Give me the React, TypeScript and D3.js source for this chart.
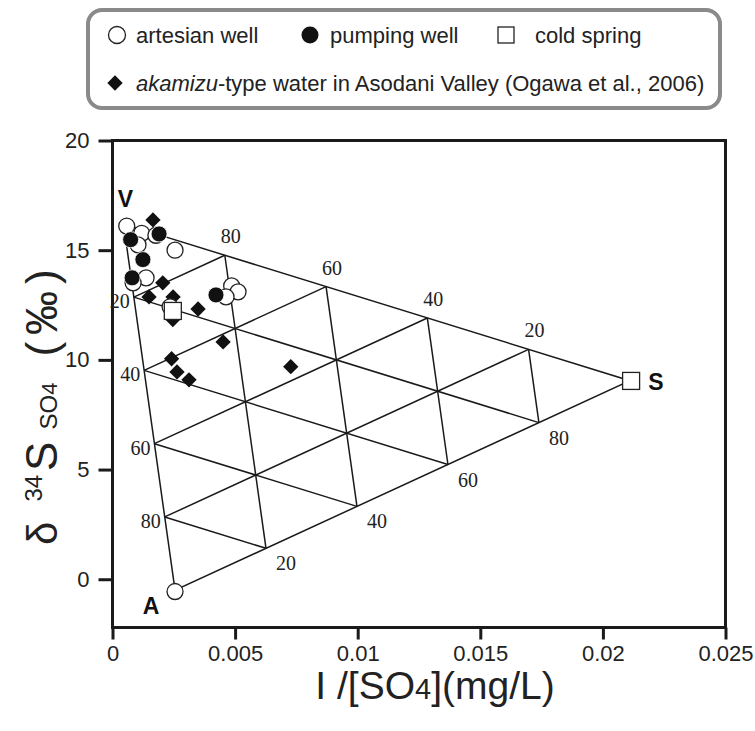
import { useEffect, useRef } from "react";
import * as d3 from "d3";

// axis ticks
const xTicks = [0, 0.005, 0.01, 0.015, 0.02, 0.025];
const yTicks = [0, 5, 10, 15, 20];

// end members of the mixing triangle: [I/SO4, d34S]
const endV = [0.00045, 16.2];
const endA = [0.00255, -0.5];
const endS = [0.0211, 9.05];
const gridLevels = [20, 40, 60, 80];

// samples [I/SO4, d34S]
const artesian = [
  [0.00058, 16.1], [0.00119, 15.77], [0.00177, 15.68], [0.00255, 15.0],
  [0.00104, 15.24], [0.00137, 13.74], [0.00084, 13.51], [0.00486, 13.37],
  [0.00512, 13.1], [0.00463, 12.87], [0.00235, 12.42], [0.00255, -0.56],
];
const pumping = [
  [0.00074, 15.48], [0.00124, 14.57], [0.0019, 15.74], [0.0008, 13.74], [0.00422, 12.96],
];
const coldSpring = [
  [0.00246, 12.23], [0.02115, 9.04],
];
const akamizu = [
  [0.00165, 16.38], [0.00205, 13.51], [0.00149, 12.87], [0.00247, 12.87],
  [0.00246, 11.84], [0.00349, 12.32], [0.00451, 10.82], [0.00241, 10.05],
  [0.00263, 9.45], [0.00312, 9.09], [0.00727, 9.69],
];

const W = 755;
const H = 731;
const sans = "'Liberation Sans', Arial, sans-serif";
const serif = "'Liberation Serif', 'Times New Roman', serif";

const App = () => {
  const ref = useRef<SVGSVGElement>(null);

  useEffect(() => {
    const svg = d3.select(ref.current);
    svg.selectAll("*").remove();

    const x = d3.scaleLinear().domain([0, 0.025]).range([112.5, 725.5]);
    const y = d3.scaleLinear().domain([-2.2, 20]).range([627.5, 140.5]);
    const diamond = d3.symbol(d3.symbolDiamond2, 150)();

    // legend box
    const lg = svg.append("g");
    lg.append("rect")
      .attr("x", 88).attr("y", 10).attr("width", 632).attr("height", 98)
      .attr("rx", 14).attr("fill", "#fff")
      .attr("stroke", "#8a8a8a").attr("stroke-width", 4);
    lg.append("circle").attr("cx", 117).attr("cy", 35).attr("r", 8.5)
      .attr("fill", "#fff").attr("stroke", "#222").attr("stroke-width", 1.3);
    lg.append("circle").attr("cx", 310).attr("cy", 35).attr("r", 8.5).attr("fill", "#111");
    lg.append("rect").attr("x", 498).attr("y", 27).attr("width", 16).attr("height", 16)
      .attr("fill", "#fff").attr("stroke", "#222").attr("stroke-width", 1.3);
    lg.append("path").attr("d", diamond)
      .attr("transform", "translate(115,83)").attr("fill", "#111");
    const legendText = [
      { t: "artesian well", x: 136, y: 43 },
      { t: "pumping well", x: 330, y: 43 },
      { t: "cold spring", x: 535, y: 43 },
    ];
    legendText.forEach((d) => {
      lg.append("text").attr("x", d.x).attr("y", d.y).text(d.t)
        .attr("font-family", sans).attr("font-size", 22).attr("fill", "#222");
    });
    const l2 = lg.append("text").attr("x", 136).attr("y", 91)
      .attr("font-family", sans).attr("font-size", 22).attr("fill", "#222");
    l2.append("tspan").attr("font-style", "italic").text("akamizu");
    l2.append("tspan").text("-type water in Asodani Valley (Ogawa et al., 2006)");

    // axes
    const yAxis = svg.append("g").attr("transform", `translate(${x(0)},0)`)
      .call(d3.axisLeft(y).tickValues(yTicks).tickSize(14).tickPadding(9).tickFormat((d) => String(d)));
    const xAxis = svg.append("g").attr("transform", `translate(0,${y(-2.2)})`)
      .call(d3.axisBottom(x).tickValues(xTicks).tickSize(12).tickPadding(6).tickFormat((d) => String(+d)));
    [yAxis, xAxis].forEach((g) => {
      g.select(".domain").remove();
      g.selectAll(".tick line").attr("stroke", "#1a1a1a").attr("stroke-width", 3);
      g.selectAll(".tick text").attr("font-family", sans).attr("font-size", 22).attr("fill", "#222");
    });

    svg.append("rect")
      .attr("x", x(0)).attr("y", y(20))
      .attr("width", x(0.025) - x(0)).attr("height", y(-2.2) - y(20))
      .attr("fill", "none").attr("stroke", "#1a1a1a").attr("stroke-width", 3);

    // mixing triangle
    const mix = (wV: number, wA: number, wS: number): [number, number] => [
      x(wV * endV[0] + wA * endA[0] + wS * endS[0]),
      y(wV * endV[1] + wA * endA[1] + wS * endS[1]),
    ];
    const line = d3.line();
    const tri = svg.append("g").attr("fill", "none").attr("stroke", "#1a1a1a").attr("stroke-width", 1.5);
    tri.append("path").attr("d", line([mix(1, 0, 0), mix(0, 1, 0), mix(0, 0, 1), mix(1, 0, 0)]));
    gridLevels.forEach((lv) => {
      const t = lv / 100;
      tri.append("path").attr("d", line([mix(t, 1 - t, 0), mix(t, 0, 1 - t)]));
      tri.append("path").attr("d", line([mix(1 - t, t, 0), mix(0, t, 1 - t)]));
      tri.append("path").attr("d", line([mix(1 - t, 0, t), mix(0, 1 - t, t)]));
    });

    const tl = svg.append("g").attr("font-family", serif).attr("font-size", 20).attr("fill", "#222");
    gridLevels.forEach((lv) => {
      const t = lv / 100;
      const p1 = mix(t, 0, 1 - t);
      tl.append("text").attr("x", p1[0] + 6).attr("y", p1[1] - 12)
        .attr("text-anchor", "middle").text(lv);
      const p2 = mix(1 - t, t, 0);
      tl.append("text").attr("x", p2[0] - 4).attr("y", p2[1] + 11)
        .attr("text-anchor", "end").text(lv);
      const p3 = mix(0, 1 - t, t);
      tl.append("text").attr("x", p3[0] + 20).attr("y", p3[1] + 22)
        .attr("text-anchor", "middle").text(lv);
    });

    // samples
    svg.append("g").selectAll("path").data(akamizu).join("path")
      .attr("d", diamond)
      .attr("transform", (d) => `translate(${x(d[0])},${y(d[1])})`)
      .attr("fill", "#111");
    svg.append("g").selectAll("circle").data(artesian).join("circle")
      .attr("cx", (d) => x(d[0])).attr("cy", (d) => y(d[1])).attr("r", 8)
      .attr("fill", "#fff").attr("stroke", "#222").attr("stroke-width", 1.3);
    svg.append("g").selectAll("circle").data(pumping).join("circle")
      .attr("cx", (d) => x(d[0])).attr("cy", (d) => y(d[1])).attr("r", 8)
      .attr("fill", "#111").attr("stroke", "#fff").attr("stroke-width", 0.8);
    svg.append("g").selectAll("rect").data(coldSpring).join("rect")
      .attr("x", (d) => x(d[0]) - 8.5).attr("y", (d) => y(d[1]) - 8.5)
      .attr("width", 17).attr("height", 17)
      .attr("fill", "#fff").attr("stroke", "#222").attr("stroke-width", 1.3);

    // end member labels
    const em = svg.append("g").attr("font-family", sans).attr("font-size", 23)
      .attr("font-weight", "bold").attr("fill", "#111").attr("text-anchor", "middle");
    em.append("text").attr("x", x(endV[0]) + 2).attr("y", y(endV[1]) - 17).text("V");
    em.append("text").attr("x", x(endA[0]) - 24).attr("y", y(endA[1]) + 24).text("A");
    em.append("text").attr("x", x(endS[0]) + 26).attr("y", y(endS[1]) + 9).text("S");

    // axis titles
    const yt = svg.append("text")
      .attr("transform", "translate(57,545) rotate(-90)")
      .attr("font-family", sans).attr("fill", "#222");
    yt.append("tspan").attr("font-size", 42).text("δ");
    yt.append("tspan").attr("font-size", 24).attr("dx", 20).attr("dy", -15).text("34");
    yt.append("tspan").attr("font-size", 44).attr("dx", 4).attr("dy", 15).text("S");
    yt.append("tspan").attr("font-size", 24).attr("dx", 12).text("SO");
    yt.append("tspan").attr("font-size", 22).text("4");
    yt.append("tspan").attr("font-size", 44).attr("dx", 26).attr("letter-spacing", 7).text("(‰)");

    const xt = svg.append("text").attr("x", 435).attr("y", 699)
      .attr("text-anchor", "middle").attr("font-family", sans).attr("fill", "#222");
    xt.append("tspan").attr("font-size", 39).text("I /[SO");
    xt.append("tspan").attr("font-size", 29).text("4");
    xt.append("tspan").attr("font-size", 39).text("](mg/L)");
  }, []);

  return (
    <svg
      ref={ref}
      width={W}
      height={H}
      style={{ position: "absolute", left: 0, top: 0, background: "#fff" }}
    ></svg>
  );
};

export default App;
